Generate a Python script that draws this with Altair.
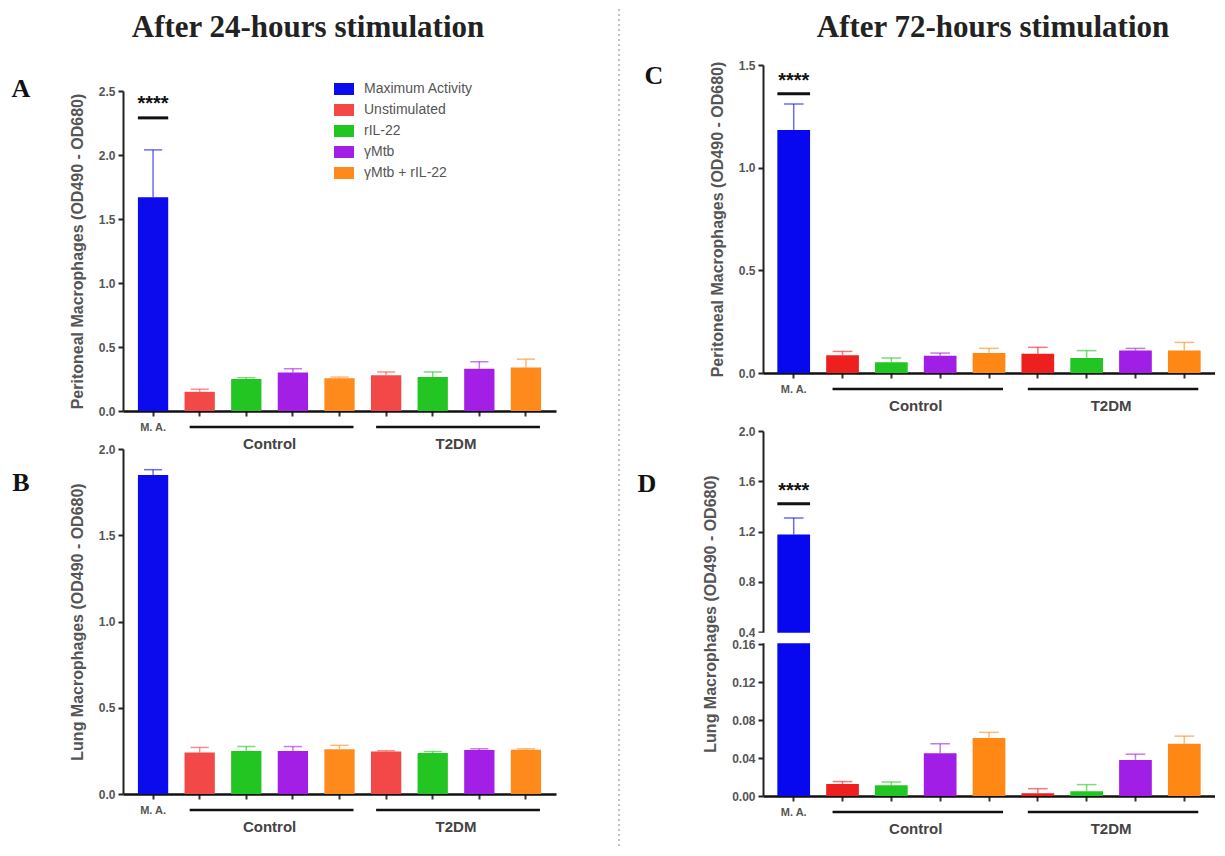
import altair as alt
import pandas as pd

# ---------------- data ----------------
CATS = ["MA", "C_Un", "C_rIL", "C_yM", "C_yMrIL", "T_Un", "T_rIL", "T_yM", "T_yMrIL"]
SERIES = ["Maximum Activity", "Unstimulated", "rIL-22", "γMtb", "γMtb + rIL-22"]
CAT_SERIES = ["Maximum Activity", "Unstimulated", "rIL-22", "γMtb", "γMtb + rIL-22",
              "Unstimulated", "rIL-22", "γMtb", "γMtb + rIL-22"]

A_MEAN = [1.67, 0.15, 0.25, 0.30, 0.255, 0.28, 0.265, 0.33, 0.34]
A_ERR = [2.04, 0.17, 0.26, 0.33, 0.265, 0.305, 0.305, 0.385, 0.405]
B_MEAN = [1.85, 0.24, 0.25, 0.25, 0.26, 0.247, 0.237, 0.255, 0.256]
B_ERR = [1.88, 0.27, 0.275, 0.275, 0.282, 0.251, 0.246, 0.262, 0.262]
C_MEAN = [1.184, 0.086, 0.052, 0.084, 0.097, 0.094, 0.073, 0.109, 0.110]
C_ERR = [1.31, 0.105, 0.073, 0.097, 0.120, 0.125, 0.109, 0.120, 0.149]
D_MEAN = [1.177, 0.0127, 0.0113, 0.0450, 0.0610, 0.0030, 0.0050, 0.0380, 0.0550]
D_ERR = [1.307, 0.0152, 0.0148, 0.0550, 0.0670, 0.0077, 0.0120, 0.0440, 0.0630]

COLORS_AB = ["#0b0bee", "#f24848", "#22c522", "#a31fe5", "#ff8a1c"]
COLORS_CD = ["#0707f0", "#ee1f1f", "#22c622", "#a01ee6", "#ff8814"]

GROUP_LABELS = ["Control", "T2DM"]
GROUP_START = ["C_Un", "T_Un"]
GROUP_END = ["C_yMrIL", "T_yMrIL"]
GROUP_MID = ["C_rIL", "T_rIL"]

TITLE_24 = "After 24-hours stimulation"
TITLE_72 = "After 72-hours stimulation"
YT_PER = "Peritoneal Macrophages (OD490 - OD680)"
YT_LUNG = "Lung Macrophages (OD490 - OD680)"
STAR_TEXT = "****"

FONT = "Liberation Sans"
SERIF = "Liberation Serif"


def colors_for(palette):
    m = dict(zip(SERIES, palette))
    return [m[s] for s in CAT_SERIES]


def one(text):
    return pd.DataFrame({"t": [text]})


def panel(mean, err, palette, W, H, pi, po, ysc, yvals, yfmt, ytitle,
          letter, lxy, star=None, legend=None, extra=()):
    df = pd.DataFrame({"cat": CATS, "series": CAT_SERIES, "mean": mean,
                       "err": err, "hex": colors_for(palette)})
    step = W / (len(CATS) - pi + 2 * po)
    bw = step * (1 - pi)
    xsc = alt.Scale(domain=CATS, paddingInner=pi, paddingOuter=po)
    xax = alt.Axis(title=None, labelExpr="datum.value == 'MA' ? 'M. A.' : ''",
                   labelFont=FONT, labelFontSize=11, labelFontWeight="bold",
                   labelColor="#555", labelPadding=5, labelAngle=0,
                   tickSize=5, tickWidth=2, tickColor="#333",
                   domainColor="#111", domainWidth=2.5, grid=False)
    yax = alt.Axis(title=ytitle, values=yvals, labelExpr=yfmt, labelOverlap=False,
                   labelFont=FONT, labelFontSize=12, labelFontWeight="bold",
                   labelColor="#555", labelPadding=3, tickSize=5, tickWidth=2,
                   tickColor="#222", domainColor="#222", domainWidth=2,
                   titleFont=FONT, titleFontSize=16, titleFontWeight="bold",
                   titleColor="#555", titlePadding=13, grid=False)

    def X(f):
        return alt.X(f + ":N", scale=xsc, axis=xax, sort=CATS)

    def Y(f):
        return alt.Y(f + ":Q", scale=ysc, axis=yax)

    if legend is not None:
        bars = alt.Chart(df).mark_bar().encode(
            x=X("cat"), y=Y("mean"),
            color=alt.Color("series:N", scale=alt.Scale(domain=SERIES, range=palette),
                            legend=legend))
    else:
        bars = alt.Chart(df).mark_bar().encode(
            x=X("cat"), y=Y("mean"), fill=alt.Fill("hex:N", scale=None))

    erule = alt.Chart(df).mark_rule(strokeWidth=1.5, opacity=0.6).encode(
        x=X("cat"), y=Y("mean"), y2="err:Q", stroke=alt.Stroke("hex:N", scale=None))
    ecap = alt.Chart(df).mark_tick(size=bw * 0.6, thickness=1.5, opacity=0.6).encode(
        x=X("cat"), y=Y("err"), fill=alt.Fill("hex:N", scale=None))

    layers = [bars, erule, ecap]
    if star is not None:
        sdf = pd.DataFrame({"cat": ["MA"], "ty": [star[0]], "ly": [star[1]], "t": [STAR_TEXT]})
        layers.append(alt.Chart(sdf).mark_text(font=FONT, fontSize=20, fontWeight="bold",
                                               color="#111", baseline="middle").encode(
            x=X("cat"), y=Y("ty"), text="t:N"))
        layers.append(alt.Chart(sdf).mark_tick(size=bw, thickness=3, color="#111",
                                               opacity=1).encode(
            x=X("cat"), y=Y("ly")))

    gdf = pd.DataFrame({"start": GROUP_START, "end": GROUP_END, "mid": GROUP_MID,
                        "label": GROUP_LABELS})
    layers.append(alt.Chart(gdf).mark_rule(strokeWidth=2.5, color="#111",
                                           xOffset=-10, x2Offset=14).encode(
        x=X("start"), x2="end:N", y=alt.value(H + 16)))
    layers.append(alt.Chart(gdf).mark_text(font=FONT, fontSize=15, fontWeight="bold",
                                           color="#444", dx=step / 2,
                                           baseline="middle").encode(
        x=X("mid"), y=alt.value(H + 33), text="label:N"))
    layers.append(alt.Chart(one(letter)).mark_text(font=SERIF, fontSize=26, fontWeight="bold",
                                                   color="#111", align="center",
                                                   baseline="middle").encode(
        x=alt.value(lxy[0]), y=alt.value(lxy[1]), text="t:N"))
    for e in extra:
        layers.append(e(X, Y, W, H))
    return alt.layer(*layers).properties(width=W, height=H)


def header(W, Hh, title, tx, rx, rcolor, dash=None):
    """Thin strip holding the column title and the full-height divider."""
    t = alt.Chart(one(title)).mark_text(font=SERIF, fontSize=31, fontWeight="bold",
                                        color="#222", align="center",
                                        baseline="alphabetic").encode(
        x=alt.value(tx), y=alt.value(2), text="t:N")
    kw = dict(color=rcolor, strokeWidth=1.2)
    if dash:
        kw["strokeDash"] = dash
    r = alt.Chart(one("")).mark_rule(**kw).encode(
        x=alt.value(rx), y=alt.value(-26), y2=alt.value(814))
    return alt.layer(t, r).properties(width=W, height=Hh)


def mask_layer(lo, hi):
    def f(X, Y, W, H):
        mdf = pd.DataFrame({"lo": [lo], "hi": [hi]})
        return alt.Chart(mdf).mark_rect(color="white").encode(
            x=alt.value(-8), x2=alt.value(W), y=Y("lo"), y2="hi:Q")
    return f


FMT1 = "format(datum.value, '.1f')"
FMTD = "datum.value < 0.3 ? format(datum.value, '.2f') : format(datum.value, '.1f')"

legend = alt.Legend(orient="none", legendX=211, legendY=-12, title=None,
                    symbolType="M-1,-0.6L1,-0.6L1,0.6L-1,0.6Z", symbolSize=400,
                    symbolStrokeWidth=0, symbolOpacity=1, labelFont=FONT,
                    labelFontSize=14, labelColor="#555", labelOffset=10,
                    rowPadding=4, padding=0, labelLimit=300)

WA, WC = 433, 452
HD = 413   # panel D view height; its scale range starts 48 px below the top
hA = header(WA, 18, TITLE_24, 185, -114, "white")
pA = panel(A_MEAN, A_ERR, COLORS_AB, WA, 320, 0.35, 0.32,
           alt.Scale(domain=[0, 2.5], nice=False, zero=True),
           [0, 0.5, 1.0, 1.5, 2.0, 2.5], FMT1, YT_PER, "A", (-102, -2),
           star=(2.40, 2.29), legend=legend)
pB = panel(B_MEAN, B_ERR, COLORS_AB, WA, 345, 0.35, 0.32,
           alt.Scale(domain=[0, 2.0], nice=False, zero=True),
           [0, 0.5, 1.0, 1.5, 2.0], FMT1, YT_LUNG, "B", (-102, 34))
hC = header(WC, 20, TITLE_72, 230, -144, "#9a9a9a", [2, 3])
pC = panel(C_MEAN, C_ERR, COLORS_CD, WC, 308, 0.33, 0.294,
           alt.Scale(domain=[0, 1.5], nice=False, zero=True),
           [0, 0.5, 1.0, 1.5], FMT1, YT_PER, "C", (-109, 11),
           star=(1.42, 1.36))
pD = panel(D_MEAN, D_ERR, COLORS_CD, WC, HD, 0.33, 0.294,
           alt.Scale(domain=[0, 0.16, 0.4, 2.0], range=[HD, HD - 152, HD - 164, 48],
                     nice=False, zero=False),
           [0, 0.04, 0.08, 0.12, 0.16, 0.4, 0.8, 1.2, 1.6, 2.0], FMTD, YT_LUNG,
           "D", (-116, 101), star=(1.52, 1.42),
           extra=[mask_layer(0.175, 0.385)])

col1 = alt.vconcat(hA, pA, pB, spacing=38, bounds="flush").resolve_scale(color="independent")
col2 = alt.vconcat(hC, pC, pD, spacing=10, bounds="flush")
chart = (alt.hconcat(col1, col2, spacing=62)
         .resolve_scale(color="independent")
         .properties(padding={"left": 0, "top": 0, "right": 0, "bottom": 0},
                     background="white")
         .configure_view(stroke="transparent", strokeWidth=0))

chart.save("out.html", embed_options={"renderer": "svg", "actions": False})
